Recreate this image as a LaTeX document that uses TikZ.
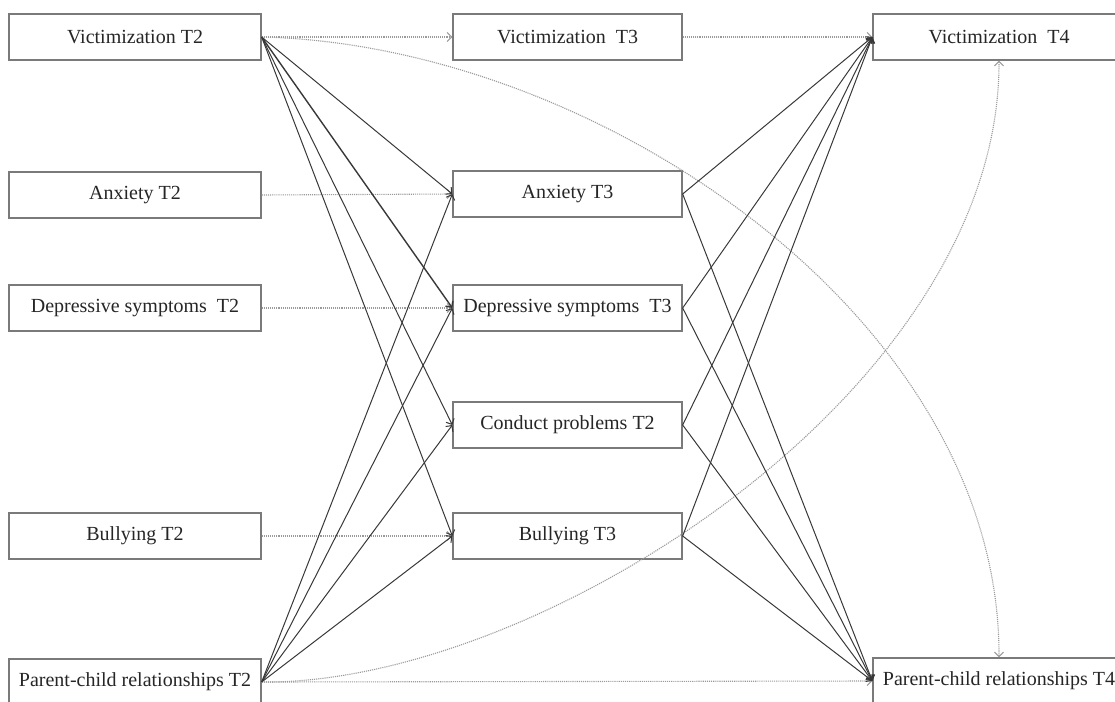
\documentclass[tikz,border=0pt]{standalone}
\usepackage{fontspec}
\setmainfont{Liberation Serif}
\usetikzlibrary{arrows.meta}
\definecolor{boxgray}{HTML}{7A7A7A}
\definecolor{solidgray}{HTML}{383838}
\definecolor{dotgray}{HTML}{9A9A9A}
\tikzset{
  box/.style={draw=boxgray, line width=1.3pt, minimum height=46pt, inner sep=0pt, fill=white, text=black!85, font=\fontsize{20}{23}\selectfont},
  lbox/.style={box, minimum width=252pt},
  mbox/.style={box, minimum width=229pt},
  rbox/.style={box, minimum width=252pt},
  tip/.style={-{Straight Barb[length=4.5pt,width=9pt]}},
  path/.style={tip, draw=solidgray, line width=1pt},
  stab/.style={tip, draw=dotgray, line width=1.1pt, densely dotted},
}
\begin{document}
\begin{tikzpicture}[x=1pt,y=-1pt]
\useasboundingbox (0,0) rectangle (1115,701);
% left column
\node[lbox] (v2) at (135,37) {Victimization T2};
\node[lbox] (a2) at (135,195) {Anxiety T2};
\node[lbox] (d2) at (135,308) {Depressive symptoms\ \ T2};
\node[lbox] (b2) at (135,536) {Bullying T2};
\node[lbox] (p2) at (135,682) {Parent-child relationships T2};
% middle column
\node[mbox] (v3) at (567.5,37) {Victimization\ \ T3};
\node[mbox] (a3) at (567.5,194) {Anxiety T3};
\node[mbox] (d3) at (567.5,308) {Depressive symptoms\ \ T3};
\node[mbox] (c3) at (567.5,425) {Conduct problems T2};
\node[mbox] (b3) at (567.5,536) {Bullying T3};
% right column
\node[rbox] (v4) at (999,37) {Victimization\ \ T4};
\node[rbox] (p4) at (999,681) {Parent-child relationships T4};
% stability paths
\draw[stab] (v2.east) -- (v3.west);
\draw[stab] (v3.east) -- (v4.west);
\draw[stab] (a2.east) -- (a3.west);
\draw[stab] (d2.east) -- (d3.west);
\draw[stab] (b2.east) -- (b3.west);
\draw[stab] (p2.east) -- (p4.west);
% curved paths
\draw[stab] (v2.east) .. controls (600,45) and (1000,320) .. (p4.north);
\draw[stab] (p2.east) .. controls (540,685) and (1000,390) .. (v4.south);
% victimization T2 to mediators
\draw[path] (v2.east) -- (a3.west);
\draw[path, line width=1.4pt] (v2.east) -- (d3.west);
\draw[path] (v2.east) -- (c3.west);
\draw[path] (v2.east) -- (b3.west);
% parent-child T2 to mediators
\draw[path] (p2.east) -- (a3.west);
\draw[path] (p2.east) -- (d3.west);
\draw[path] (p2.east) -- (c3.west);
\draw[path] (p2.east) -- (b3.west);
% mediators to outcomes
\foreach \m in {a3,d3,c3,b3}{
  \draw[path] (\m.east) -- (v4.west);
  \draw[path] (\m.east) -- (p4.west);
}
\end{tikzpicture}
\end{document}
